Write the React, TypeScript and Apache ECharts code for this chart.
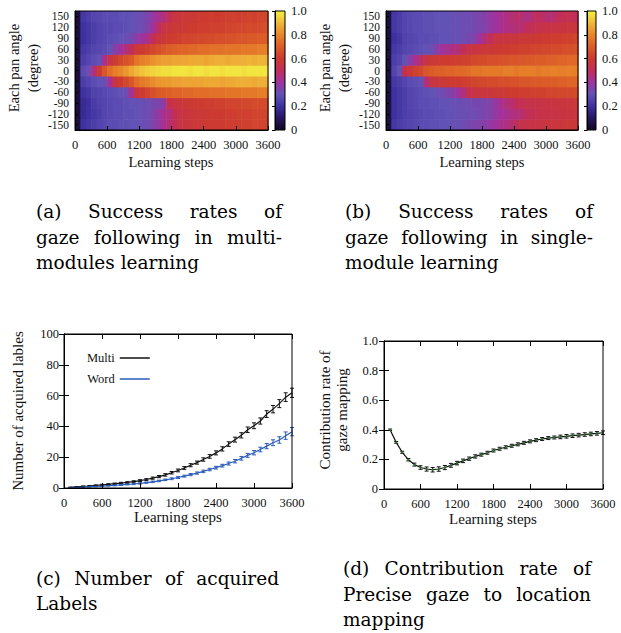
import React, { useEffect, useRef } from "react";
import * as echarts from "echarts";

// ---------- data ----------
// pan-angle rows, bottom to top
const panAngles = [-150, -120, -90, -60, -30, 0, 30, 60, 90, 120, 150];
// start of each 100-step learning bin
const binStarts = [0, 100, 200, 300, 400, 500, 600, 700, 800, 900, 1000, 1100, 1200, 1300, 1400, 1500, 1600, 1700,
  1800, 1900, 2000, 2100, 2200, 2300, 2400, 2500, 2600, 2700, 2800, 2900, 3000, 3100, 3200, 3300, 3400, 3500];
const steps = [100, 200, 300, 400, 500, 600, 700, 800, 900, 1000, 1100, 1200, 1300, 1400, 1500, 1600, 1700, 1800,
  1900, 2000, 2100, 2200, 2300, 2400, 2500, 2600, 2700, 2800, 2900, 3000, 3100, 3200, 3300, 3400, 3500, 3600];

// (a) multi-modules learning success rates
const multi150 = [0.05,0.22,0.24,0.26,0.27,0.28, 0.28,0.28,0.29,0.29,0.30,0.31, 0.32,0.34,0.38,0.42,0.45,0.50, 0.56,0.57,0.58,0.58,0.59,0.60, 0.60,0.61,0.60,0.61,0.62,0.62, 0.61,0.62,0.63,0.62,0.63,0.64];
const multi120 = [0.05,0.20,0.22,0.24,0.26,0.27, 0.27,0.28,0.28,0.29,0.30,0.31, 0.32,0.35,0.40,0.48,0.55,0.57, 0.58,0.58,0.59,0.60,0.60,0.61, 0.61,0.62,0.62,0.62,0.63,0.63, 0.64,0.64,0.65,0.64,0.65,0.66];
const multi90 = [0.05,0.20,0.22,0.24,0.26,0.27, 0.28,0.29,0.30,0.31,0.33,0.37, 0.40,0.43,0.50,0.56,0.58,0.60, 0.61,0.62,0.63,0.63,0.64,0.64, 0.65,0.65,0.66,0.66,0.67,0.67, 0.68,0.68,0.69,0.69,0.70,0.70];
const multi60 = [0.05,0.22,0.24,0.26,0.27,0.28, 0.30,0.36,0.40,0.45,0.50,0.58, 0.60,0.62,0.64,0.66,0.68,0.70, 0.71,0.72,0.72,0.73,0.73,0.74, 0.74,0.75,0.75,0.75,0.76,0.76, 0.76,0.77,0.77,0.77,0.78,0.78];
const multi30 = [0.05,0.24,0.26,0.28,0.30,0.42, 0.55,0.60,0.64,0.67,0.70,0.76, 0.78,0.80,0.82,0.84,0.85,0.85, 0.86,0.86,0.86,0.87,0.87,0.87, 0.86,0.87,0.88,0.88,0.87,0.88, 0.88,0.88,0.89,0.88,0.89,0.89];
const multi0 = [0.05,0.28,0.32,0.45,0.58,0.68, 0.74,0.78,0.80,0.83,0.87,0.90, 0.92,0.94,0.95,0.96,0.97,0.97, 0.98,0.98,0.98,0.97,0.98,0.98, 0.97,0.98,0.98,0.97,0.98,0.98, 0.98,0.97,0.98,0.98,0.98,0.98];
const multiM30 = [0.05,0.24,0.26,0.28,0.30,0.31, 0.42,0.56,0.60,0.64,0.68,0.74, 0.77,0.79,0.81,0.83,0.84,0.84, 0.85,0.85,0.86,0.86,0.86,0.86, 0.87,0.87,0.87,0.86,0.87,0.87, 0.88,0.88,0.88,0.87,0.88,0.88];
const multiM60 = [0.05,0.20,0.22,0.25,0.26,0.27, 0.28,0.29,0.30,0.32,0.42,0.56, 0.60,0.63,0.66,0.69,0.70,0.71, 0.72,0.72,0.73,0.73,0.74,0.74, 0.74,0.75,0.75,0.75,0.76,0.76, 0.76,0.77,0.77,0.77,0.78,0.78];
const multiM90 = [0.05,0.18,0.20,0.23,0.25,0.26, 0.27,0.28,0.28,0.29,0.30,0.30, 0.31,0.32,0.33,0.34,0.37,0.52, 0.56,0.57,0.58,0.59,0.60,0.60, 0.61,0.61,0.62,0.62,0.63,0.63, 0.63,0.64,0.64,0.65,0.65,0.65];
const multiM120 = [0.05,0.18,0.20,0.22,0.24,0.26, 0.27,0.28,0.28,0.29,0.29,0.30, 0.31,0.32,0.34,0.38,0.42,0.45, 0.50,0.55,0.56,0.57,0.58,0.58, 0.59,0.60,0.60,0.60,0.61,0.61, 0.62,0.62,0.62,0.63,0.63,0.63];
const multiM150 = [0.05,0.20,0.22,0.24,0.26,0.27, 0.28,0.28,0.29,0.29,0.30,0.30, 0.31,0.32,0.34,0.38,0.42,0.46, 0.50,0.55,0.56,0.57,0.58,0.58, 0.59,0.60,0.60,0.60,0.61,0.61, 0.61,0.62,0.62,0.63,0.63,0.63];

// (b) single-module learning success rates
const single150 = [0.05,0.22,0.24,0.26,0.27,0.28, 0.28,0.29,0.29,0.30,0.30,0.30, 0.31,0.31,0.32,0.32,0.33,0.34, 0.36,0.38,0.40,0.42,0.44,0.46, 0.48,0.46,0.44,0.47,0.50,0.48, 0.46,0.47,0.50,0.52,0.52,0.50];
const single120 = [0.05,0.22,0.24,0.26,0.27,0.28, 0.28,0.29,0.29,0.30,0.30,0.30, 0.31,0.31,0.32,0.32,0.33,0.34, 0.35,0.38,0.40,0.42,0.44,0.45, 0.46,0.47,0.50,0.52,0.53,0.54, 0.55,0.55,0.56,0.56,0.57,0.57];
const single90 = [0.05,0.20,0.22,0.25,0.26,0.27, 0.28,0.28,0.29,0.29,0.30,0.30, 0.31,0.31,0.32,0.33,0.35,0.40, 0.45,0.50,0.55,0.56,0.56,0.57, 0.57,0.58,0.58,0.59,0.59,0.60, 0.60,0.61,0.61,0.62,0.62,0.63];
const single60 = [0.05,0.22,0.24,0.26,0.27,0.28, 0.29,0.30,0.31,0.36,0.40,0.42, 0.44,0.46,0.50,0.55,0.56,0.57, 0.58,0.58,0.59,0.60,0.60,0.61, 0.61,0.62,0.62,0.63,0.63,0.64, 0.64,0.65,0.65,0.66,0.66,0.67];
const single30 = [0.05,0.24,0.26,0.30,0.36,0.42, 0.48,0.55,0.58,0.59,0.60,0.60, 0.61,0.61,0.62,0.62,0.64,0.65, 0.65,0.66,0.66,0.67,0.67,0.68, 0.68,0.68,0.69,0.69,0.70,0.70, 0.71,0.71,0.72,0.72,0.73,0.73];
const single0 = [0.05,0.26,0.30,0.52,0.58,0.62, 0.64,0.68,0.70,0.71,0.71,0.72, 0.72,0.73,0.73,0.74,0.76,0.76, 0.77,0.77,0.77,0.77,0.78,0.78, 0.77,0.78,0.78,0.78,0.77,0.78, 0.78,0.79,0.78,0.78,0.79,0.78];
const singleM30 = [0.05,0.22,0.24,0.26,0.28,0.29, 0.30,0.45,0.55,0.57,0.58,0.59, 0.60,0.60,0.61,0.62,0.63,0.64, 0.64,0.65,0.65,0.66,0.66,0.67, 0.67,0.68,0.68,0.69,0.69,0.70, 0.70,0.70,0.71,0.71,0.72,0.72];
const singleM60 = [0.05,0.20,0.22,0.24,0.26,0.27, 0.28,0.29,0.30,0.31,0.32,0.34, 0.36,0.40,0.45,0.52,0.55,0.56, 0.57,0.57,0.58,0.58,0.59,0.60, 0.60,0.61,0.61,0.62,0.62,0.62, 0.63,0.63,0.64,0.64,0.64,0.65];
const singleM90 = [0.05,0.20,0.22,0.24,0.26,0.27, 0.28,0.28,0.29,0.29,0.30,0.30, 0.31,0.31,0.32,0.32,0.33,0.33, 0.34,0.35,0.38,0.42,0.45,0.47, 0.50,0.52,0.53,0.54,0.54,0.55, 0.55,0.56,0.56,0.57,0.57,0.58];
const singleM120 = [0.05,0.20,0.22,0.24,0.25,0.26, 0.27,0.28,0.28,0.29,0.29,0.30, 0.30,0.31,0.31,0.32,0.32,0.33, 0.34,0.35,0.38,0.40,0.42,0.44, 0.45,0.47,0.50,0.52,0.53,0.54, 0.54,0.55,0.55,0.56,0.56,0.57];
const singleM150 = [0.05,0.22,0.24,0.25,0.26,0.27, 0.28,0.28,0.29,0.29,0.30,0.30, 0.31,0.31,0.32,0.33,0.34,0.35, 0.36,0.38,0.40,0.42,0.44,0.46, 0.50,0.53,0.54,0.55,0.55,0.56, 0.56,0.57,0.57,0.58,0.58,0.58];

const multiRows = [multiM150, multiM120, multiM90, multiM60, multiM30, multi0, multi30, multi60, multi90, multi120, multi150];
const singleRows = [singleM150, singleM120, singleM90, singleM60, singleM30, single0, single30, single60, single90, single120, single150];

// (c) number of acquired labels
const multiLabels = [0.4,0.7,1.0,1.3,1.7,2.0,2.4,2.8,3.2,3.6,4.2,4.8,5.5,6.4,7.4,8.5,9.9,11.4,13.0,14.8,16.5,18.5,20.5,22.8,25.4,28.5,31.4,34.2,37.8,40.4,43.5,48.0,51.2,54.8,59.0,61.8];
const multiLabelsErr = [0.2,0.2,0.3,0.3,0.3,0.4,0.4,0.4,0.5,0.5,0.5,0.6,0.6,0.7,0.7,0.8,0.8,0.9,0.9,1.0,1.0,1.1,1.2,1.3,1.4,1.5,1.6,1.7,1.8,1.9,2.0,2.2,2.4,2.6,2.8,3.0];
const wordLabels = [0.2,0.4,0.6,0.8,1.0,1.2,1.5,1.7,2.0,2.3,2.6,3.0,3.5,4.0,4.6,5.3,6.0,6.8,7.7,8.7,9.7,10.8,12.0,13.2,14.5,15.9,17.4,19.3,21.2,22.9,25.0,27.2,29.4,31.2,34.0,36.6];
const wordLabelsErr = [0.1,0.1,0.2,0.2,0.2,0.2,0.3,0.3,0.3,0.3,0.4,0.4,0.4,0.5,0.5,0.5,0.6,0.6,0.6,0.7,0.7,0.8,0.8,0.9,0.9,1.0,1.1,1.2,1.3,1.4,1.5,1.7,1.9,2.1,2.4,2.7];

// (d) contribution rate of gaze mapping
const contribution = [0.40,0.315,0.248,0.198,0.165,0.145,0.135,0.13,0.135,0.145,0.16,0.175,0.19,0.205,0.22,0.232,0.245,0.26,0.272,0.282,0.292,0.302,0.312,0.322,0.33,0.338,0.344,0.348,0.352,0.356,0.36,0.364,0.368,0.372,0.376,0.38];
const contributionErr = [0.005,0.006,0.007,0.008,0.01,0.012,0.014,0.015,0.015,0.014,0.013,0.012,0.012,0.011,0.011,0.01,0.01,0.01,0.01,0.01,0.01,0.01,0.01,0.01,0.01,0.01,0.01,0.01,0.012,0.012,0.012,0.012,0.012,0.012,0.012,0.012];

// colour palette (0 -> 1)
const paletteColors = ["#100820", "#261660", "#3e30a0", "#6252b6", "#a0329e", "#c22e5a", "#cc3a30", "#dc5c28", "#e8862a", "#f0b83a", "#f2f040"];

// captions
const captionA = [["(a)", "Success", "rates", "of"], ["gaze", "following", "in", "multi-"], ["modules", "learning"]];
const captionB = [["(b)", "Success", "rates", "of"], ["gaze", "following", "in", "single-"], ["module", "learning"]];
const captionC = [["(c)", "Number", "of", "acquired"], ["Labels"]];
const captionD = [["(d)", "Contribution", "rate", "of"], ["Precise", "gaze", "to", "location"], ["mapping"]];

// ---------- helpers ----------
const SERIF = "Liberation Serif";
const CAPTION_FONT = '18.5px "DejaVu Serif"';
const tickText = { fontFamily: SERIF, fontSize: 12.5, color: "#111" };
const plain = (v: number) => String(v);

function measure(text: string, font: string): number {
  const ctx = document.createElement("canvas").getContext("2d")!;
  ctx.font = font;
  return ctx.measureText(text).width;
}

function captionElements(lines: string[][], x0: number, x1: number, ys: number[], justify: boolean[]) {
  const els: any[] = [];
  lines.forEach((words, li) => {
    const widths = words.map((w) => measure(w, CAPTION_FONT));
    const total = widths.reduce((a, b) => a + b, 0);
    const space = measure(" ", CAPTION_FONT);
    const gap = justify[li] && words.length > 1 ? (x1 - x0 - total) / (words.length - 1) : space;
    let x = x0;
    words.forEach((w, wi) => {
      els.push({
        type: "text", x, y: ys[li], silent: true,
        style: { text: w, font: CAPTION_FONT, fill: "#000", align: "left", textAlign: "left", verticalAlign: "middle", textVerticalAlign: "middle" },
      });
      x += widths[wi] + gap;
    });
  });
  return els;
}

function label(text: string, x: number, y: number, size: number, rotate = false, lineHeight = 18) {
  return {
    type: "text", x, y, rotation: rotate ? Math.PI / 2 : 0, silent: true,
    style: { text, font: `${size}px "${SERIF}"`, fill: "#111", align: "center", textAlign: "center", verticalAlign: "middle", textVerticalAlign: "middle", lineHeight },
  };
}

function stepAxis(gridIndex: number, extra: any = {}) {
  return {
    type: "value", gridIndex, min: 0, max: 3600, interval: 600, z: 6,
    axisLine: { show: true, onZero: false, lineStyle: { color: "#000", width: 1 } },
    axisTick: { show: true, inside: true, length: 4, lineStyle: { color: "#000" } },
    axisLabel: { ...tickText, margin: 8, formatter: plain },
    splitLine: { show: false },
    ...extra,
  };
}

function angleAxis(gridIndex: number) {
  return {
    type: "category", gridIndex, data: panAngles.map(String), boundaryGap: true, z: 6,
    axisLine: { show: true, lineStyle: { color: "#000" } },
    axisTick: { show: true, inside: true, alignWithLabel: true, length: 3, interval: 0, lineStyle: { color: "#000" } },
    axisLabel: { ...tickText, fontSize: 11.5, lineHeight: 10, interval: 0, margin: 6 },
    splitLine: { show: false },
  };
}

function colorbarAxis(gridIndex: number) {
  return {
    type: "value", gridIndex, min: 0, max: 1, interval: 0.2, position: "right", z: 6,
    axisLine: { show: true, lineStyle: { color: "#000" } },
    axisTick: { show: true, inside: true, length: 3, lineStyle: { color: "#000" } },
    axisLabel: { ...tickText, margin: 6, formatter: (v: number) => (v === 0 ? "0" : v.toFixed(1)) },
    splitLine: { show: false },
  };
}

function heatSeries(rows: number[][], axisIndex: number) {
  const data: number[][] = [];
  rows.forEach((row, r) => row.forEach((v, c) => data.push([binStarts[c], r, v])));
  return {
    type: "custom", xAxisIndex: axisIndex, yAxisIndex: axisIndex, data, z: 2,
    renderItem: (_p: any, api: any) => {
      const x0 = api.value(0);
      const r = api.value(1);
      const c = api.coord([x0 + 50, r]);
      const s = api.size([100, 1]);
      return {
        type: "rect",
        shape: { x: c[0] - s[0] / 2, y: c[1] - s[1] / 2, width: s[0] + 0.6, height: s[1] + 0.6 },
        style: { fill: api.visual("color") },
      };
    },
  };
}

function colorbarSeries(axisIndex: number) {
  const n = paletteColors.length;
  return {
    type: "custom", xAxisIndex: axisIndex, yAxisIndex: axisIndex, data: [[0, 0]], z: 2,
    renderItem: (_p: any, api: any) => {
      const p0 = api.coord([0, 0]);
      const p1 = api.coord([1, 1]);
      return {
        type: "rect",
        shape: { x: p0[0], y: p1[1], width: p1[0] - p0[0], height: p0[1] - p1[1] },
        style: {
          fill: new echarts.graphic.LinearGradient(0, 1, 0, 0, paletteColors.map((c, i) => ({ offset: i / (n - 1), color: c }))),
        },
      };
    },
  };
}

function errorSeries(name: string, vals: number[], errs: number[], axisIndex: number, color: string) {
  return {
    type: "custom", name, xAxisIndex: axisIndex, yAxisIndex: axisIndex, z: 3,
    data: steps.map((s, i) => [s, vals[i], errs[i]]),
    renderItem: (_p: any, api: any) => {
      const x = api.value(0), y = api.value(1), e = api.value(2);
      const t = api.coord([x, y + e]);
      const b = api.coord([x, y - e]);
      const w = 2;
      const st = { stroke: color, lineWidth: 1 };
      return {
        type: "group",
        children: [
          { type: "line", shape: { x1: t[0], y1: t[1], x2: b[0], y2: b[1] }, style: st },
          { type: "line", shape: { x1: t[0] - w, y1: t[1], x2: t[0] + w, y2: t[1] }, style: st },
          { type: "line", shape: { x1: b[0] - w, y1: b[1], x2: b[0] + w, y2: b[1] }, style: st },
        ],
      };
    },
  };
}

export default function App() {
  const ref = useRef<HTMLDivElement>(null);
  useEffect(() => {
    if (!ref.current) return;
    const chart = echarts.init(ref.current, undefined, { renderer: "svg" });
    const frame = { show: true, borderColor: "#000", borderWidth: 1, backgroundColor: "transparent", z: 5 };
    const tick5 = { show: true, inside: true, length: 5, lineStyle: { color: "#000" } };

    const graphics = [
      label("Learning steps", 171, 162, 14.5),
      label("Learning steps", 482, 162, 14.5),
      label("Each pan angle\n(degree)", 23, 68, 14.5, true, 19),
      label("Each pan angle\n(degree)", 334, 68, 14.5, true, 19),
      label("Learning steps", 178, 517, 15),
      label("Number of acquired lables", 18, 411, 15, true),
      label("Learning steps", 493, 519, 15),
      label("Contribution rate of\ngaze mapping", 333, 410, 15, true, 17),
      ...captionElements(captionA, 36, 282, [211, 237, 262], [true, true, false]),
      ...captionElements(captionB, 345, 593, [211, 237, 262], [true, true, false]),
      ...captionElements(captionC, 36, 279, [578, 603], [true, false]),
      ...captionElements(captionD, 343, 591, [568, 594, 619], [true, true, false]),
    ];

    chart.setOption({
      animation: false,
      backgroundColor: "#fff",
      grid: [
        { left: 75, top: 11, width: 193, height: 119, ...frame },
        { left: 275, top: 11, width: 10, height: 119, ...frame },
        { left: 386, top: 11, width: 192, height: 119, ...frame },
        { left: 587, top: 11, width: 9, height: 119, ...frame },
        { left: 64, top: 334, width: 228, height: 154, ...frame },
        { left: 384, top: 341, width: 219, height: 148, ...frame },
      ],
      xAxis: [
        stepAxis(0),
        { type: "value", gridIndex: 1, min: 0, max: 1, show: false },
        stepAxis(2),
        { type: "value", gridIndex: 3, min: 0, max: 1, show: false },
        stepAxis(4, { axisTick: tick5 }),
        stepAxis(5, { axisTick: tick5 }),
        stepAxis(4, { position: "top", axisLabel: { show: false }, axisTick: tick5 }),
        stepAxis(5, { position: "top", axisLabel: { show: false }, axisTick: tick5 }),
      ],
      yAxis: [
        angleAxis(0),
        colorbarAxis(1),
        angleAxis(2),
        colorbarAxis(3),
        {
          type: "value", gridIndex: 4, min: 0, max: 100, interval: 20, z: 6,
          axisLine: { show: true, lineStyle: { color: "#000" } },
          axisTick: tick5,
          axisLabel: { ...tickText, margin: 5 }, splitLine: { show: false },
        },
        {
          type: "value", gridIndex: 5, min: 0, max: 1, interval: 0.2, z: 6,
          axisLine: { show: true, lineStyle: { color: "#000" } },
          axisTick: tick5,
          axisLabel: { ...tickText, margin: 6, formatter: (v: number) => (v === 0 ? "0" : v.toFixed(1)) }, splitLine: { show: false },
        },
        {
          type: "value", gridIndex: 4, min: 0, max: 100, interval: 20, position: "right", z: 6,
          axisLine: { show: true, lineStyle: { color: "#000" } },
          axisTick: tick5,
          axisLabel: { show: false }, splitLine: { show: false },
        },
        {
          type: "value", gridIndex: 5, min: 0, max: 1, interval: 0.2, position: "right", z: 6,
          axisLine: { show: true, lineStyle: { color: "#000" } },
          axisTick: tick5,
          axisLabel: { show: false }, splitLine: { show: false },
        },
      ],
      visualMap: {
        type: "continuous", show: false, min: 0, max: 1, dimension: 2, seriesIndex: [0, 1],
        inRange: { color: paletteColors },
      },
      legend: {
        data: ["Multi", "Word"], left: 82, top: 346, orient: "vertical", align: "right",
        icon: "rect", itemWidth: 30, itemHeight: 1.5, itemGap: 7, selectedMode: false,
        textStyle: { fontFamily: SERIF, fontSize: 12.5, color: "#111", lineHeight: 14 },
      },
      series: [
        heatSeries(multiRows, 0),
        heatSeries(singleRows, 2),
        colorbarSeries(1),
        colorbarSeries(3),
        {
          type: "line", name: "Multi", xAxisIndex: 4, yAxisIndex: 4, symbol: "none", z: 4,
          data: steps.map((s, i) => [s, multiLabels[i]]),
          lineStyle: { color: "#111", width: 1.2 }, itemStyle: { color: "#111" },
        },
        {
          type: "line", name: "Word", xAxisIndex: 4, yAxisIndex: 4, symbol: "none", z: 4,
          data: steps.map((s, i) => [s, wordLabels[i]]),
          lineStyle: { color: "#2a5cb8", width: 1.2 }, itemStyle: { color: "#2a5cb8" },
        },
        errorSeries("MultiErr", multiLabels, multiLabelsErr, 4, "#111"),
        errorSeries("WordErr", wordLabels, wordLabelsErr, 4, "#2a5cb8"),
        {
          type: "line", name: "Contribution", xAxisIndex: 5, yAxisIndex: 5, symbol: "circle", symbolSize: 2, z: 4,
          data: steps.map((s, i) => [s, contribution[i]]),
          lineStyle: { color: "#111", width: 1.2 }, itemStyle: { color: "#2a7a2a" },
        },
        errorSeries("ContributionErr", contribution, contributionErr, 5, "#111"),
      ],
      graphic: graphics,
    });
    return () => chart.dispose();
  }, []);
  return <div ref={ref} style={{ position: "absolute", left: 0, top: 0, width: 621, height: 633 }} />;
}
